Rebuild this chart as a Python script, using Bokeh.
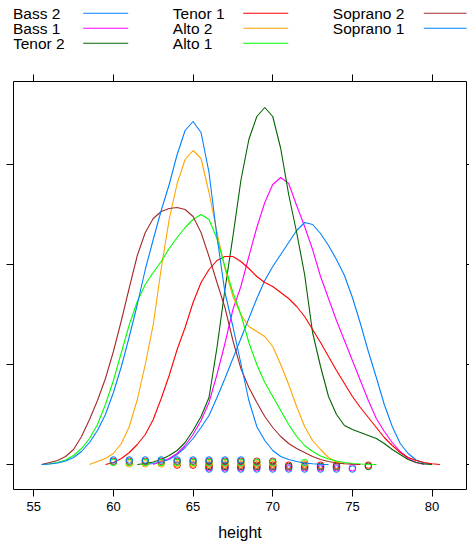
from bokeh.plotting import figure
from bokeh.models import Range1d, LinearAxis, FixedTicker
from bokeh.layouts import column
from bokeh.embed import file_html
from bokeh.resources import INLINE
from bokeh.core.properties import value

FONT = "Liberation Sans"

groups = ["Bass 2", "Bass 1", "Tenor 2", "Tenor 1", "Alto 2", "Alto 1", "Soprano 2", "Soprano 1"]
colors = ["#0080ff", "#ff00ff", "#006400", "#ff0000", "#ffa500", "#00ff00", "#a52a2a", "#0080ff"]

x_ticks = [55, 60, 65, 70, 75, 80]
y_ticks = [0.0, 0.05, 0.10, 0.15]

# density estimates (height in inches -> density)
bass2_x = [62, 62.5, 63, 63.5, 64, 64.5, 65, 65.5, 66, 66.5, 67, 67.5, 68, 68.5, 69, 69.5, 70, 70.5, 71, 71.5, 72, 72.5, 73, 73.5, 74, 74.5, 75, 75.5, 76, 76.5, 77, 77.5, 78, 78.5, 79, 79.5, 80]
bass2_d = [0, .0005, .00125, .0025, .005, .0085, .013, .0185, .0245, .0335, .043, .053, .063, .073, .083, .092, .099, .105, .111, .117, .121, .120, .1155, .1095, .1025, .0945, .0835, .0705, .0565, .0435, .030, .019, .0105, .0055, .00225, .00075, 0]

bass1_x = [62.5, 63, 63.5, 64, 64.5, 65, 65.5, 66, 66.5, 67, 67.5, 68, 68.5, 69, 69.5, 70, 70.5, 71, 71.5, 72, 72.5, 73, 73.5, 74, 74.5, 75, 75.5, 76, 76.5, 77, 77.5, 78, 78.5, 79, 79.5]
bass1_d = [0, .0015, .003, .0055, .0095, .015, .022, .031, .045, .0605, .0775, .089, .104, .1185, .131, .140, .1435, .1405, .1295, .119, .1075, .094, .083, .072, .062, .052, .042, .032, .023, .0165, .011, .0065, .003, .001, 0]

tenor2_x = [61.5, 62, 62.5, 63, 63.5, 64, 64.5, 65, 65.5, 66, 66.5, 67, 67.5, 68, 68.5, 69, 69.5, 70, 70.5, 71, 71.5, 72, 72.5, 73, 73.5, 74, 74.5, 75, 75.5, 76, 76.5, 77, 77.5, 78, 78.5, 79, 79.5, 80]
tenor2_d = [0, .0005, .00125, .0025, .0045, .007, .011, .017, .024, .0335, .0585, .0875, .114, .142, .1625, .174, .1785, .174, .158, .135, .116, .095, .066, .049, .034, .025, .0195, .0175, .016, .0145, .013, .0105, .0075, .005, .0025, .001, .00025, 0]

tenor1_x = [59.5, 60, 60.5, 61, 61.5, 62, 62.5, 63, 63.5, 64, 64.5, 65, 65.5, 66, 66.5, 67, 67.5, 68, 68.5, 69, 69.5, 70, 70.5, 71, 71.5, 72, 72.5, 73, 73.5, 74, 74.5, 75, 75.5, 76, 76.5, 77, 77.5, 78, 78.5, 79, 79.5, 80, 80.5]
tenor1_d = [0, .001, .003, .006, .010, .015, .0225, .033, .0445, .0575, .0685, .081, .091, .0975, .102, .104, .104, .1015, .098, .094, .091, .089, .086, .083, .079, .074, .0675, .061, .054, .047, .0405, .034, .0285, .0235, .0185, .0135, .0095, .006, .0035, .002, .001, .0004, 0]

alto2_x = [58.5, 59, 59.5, 60, 60.5, 61, 61.5, 62, 62.5, 63, 63.5, 64, 64.5, 65, 65.5, 66, 66.5, 67, 67.5, 68, 68.5, 69, 69.5, 70, 70.5, 71, 71.5, 72, 72.5, 73, 73.5, 74, 74.5]
alto2_d = [0, .0015, .003, .0055, .0105, .019, .0325, .050, .070, .098, .1225, .1405, .1525, .157, .153, .136, .116, .098, .084, .075, .069, .0665, .064, .059, .050, .040, .029, .019, .012, .0075, .0035, .00125, .00025]

alto1_x = [55.5, 56, 56.5, 57, 57.5, 58, 58.5, 59, 59.5, 60, 60.5, 61, 61.5, 62, 62.5, 63, 63.5, 64, 64.5, 65, 65.5, 66, 66.5, 67, 67.5, 68, 68.5, 69, 69.5, 70, 70.5, 71, 71.5, 72, 72.5, 73, 73.5, 74, 74.5, 75, 75.5, 76, 76.5]
alto1_d = [0, .00035, .001, .00225, .0045, .008, .013, .020, .030, .042, .056, .070, .0815, .090, .096, .1015, .108, .1135, .1185, .1225, .125, .1225, .113, .099, .086, .075, .061, .050, .041, .034, .027, .020, .014, .0095, .0065, .00425, .00275, .00175, .001, .0005, .00025, .0001, 0]

soprano2_x = [55.5, 56, 56.5, 57, 57.5, 58, 58.5, 59, 59.5, 60, 60.5, 61, 61.5, 62, 62.5, 63, 63.5, 64, 64.5, 65, 65.5, 66, 66.5, 67, 67.5, 68, 68.5, 69, 69.5, 70, 70.5, 71, 71.5, 72, 72.5, 73, 73.5, 74, 74.5, 75, 75.5]
soprano2_d = [0, .001, .002, .004, .0075, .014, .0225, .032, .043, .0565, .072, .0885, .1045, .116, .123, .1265, .128, .1285, .1275, .124, .116, .104, .091, .0785, .062, .048, .0385, .031, .024, .0185, .014, .0105, .008, .006, .004, .0025, .0015, .00075, .00035, .0001, 0]

soprano1_x = [55.5, 56, 56.5, 57, 57.5, 58, 58.5, 59, 59.5, 60, 60.5, 61, 61.5, 62, 62.5, 63, 63.5, 64, 64.5, 65, 65.5, 66, 66.5, 67, 67.5, 68, 68.5, 69, 69.5, 70, 70.5, 71, 71.5, 72, 72.5, 73, 73.5]
soprano1_d = [0, .00025, .00075, .00175, .0035, .0065, .011, .017, .025, .036, .049, .064, .080, .0975, .1125, .127, .140, .155, .167, .1715, .166, .146, .114, .086, .069, .0505, .032, .019, .012, .007, .004, .0025, .0015, .00075, .0004, .00015, 0]

# observed heights (rug points)
bass2_h = [66, 67, 68, 69, 70, 71, 72, 73, 74, 75]
bass1_h = [66, 67, 68, 69, 70, 71, 72, 73, 74, 75]
tenor2_h = [66, 67, 68, 69, 70, 71, 72, 73, 74, 76]
tenor1_h = [64, 65, 66, 67, 68, 69, 70, 71, 72, 73, 74, 76]
alto2_h = [61, 62, 63, 64, 65, 66, 67, 68, 69, 70, 72]
alto1_h = [60, 61, 62, 63, 64, 65, 66, 67, 68, 69, 70, 72]
soprano2_h = [60, 61, 62, 63, 64, 65, 66, 67, 68, 69, 70]
soprano1_h = [60, 61, 62, 63, 64, 65, 66, 67, 68]

curves_x = [bass2_x, bass1_x, tenor2_x, tenor1_x, alto2_x, alto1_x, soprano2_x, soprano1_x]
curves_d = [bass2_d, bass1_d, tenor2_d, tenor1_d, alto2_d, alto1_d, soprano2_d, soprano1_d]
rugs = [bass2_h, bass1_h, tenor2_h, tenor1_h, alto2_h, alto1_h, soprano2_h, soprano1_h]

BL, BR = 13, 3  # side borders shared by key and panel

# ---------- main panel ----------
p = figure(width=469, height=488, x_range=Range1d(53.73, 82.16), y_range=Range1d(-0.0125, 0.1915),
           output_backend="svg", toolbar_location=None, x_axis_location=None, y_axis_location=None,
           min_border_left=BL, min_border_right=BR, min_border_top=21, min_border_bottom=59)
p.grid.visible = False
p.outline_line_color = "black"
p.outline_line_width = 1
p.background_fill_color = "white"
p.border_fill_color = "white"


def make_axis(ticks, tick_out, labels):
    ax = LinearAxis(ticker=FixedTicker(ticks=ticks))
    ax.axis_line_color = None
    ax.major_tick_in = 0
    ax.major_tick_out = tick_out
    ax.major_tick_line_color = "black"
    ax.minor_tick_line_color = None
    if labels:
        ax.major_label_text_font = FONT
        ax.major_label_text_font_size = "13px"
        ax.major_label_text_color = "black"
        ax.major_label_standoff = 5
    else:
        ax.major_label_text_font_size = "0px"
        ax.major_label_standoff = 0
        ax.major_label_overrides = {t: "" for t in ticks}
    return ax


bottom = make_axis(x_ticks, 7, True)
bottom.axis_label = "height"
bottom.axis_label_text_font = FONT
bottom.axis_label_text_font_size = "16px"
bottom.axis_label_text_font_style = "normal"
bottom.axis_label_text_color = "black"
bottom.axis_label_standoff = 10
p.add_layout(bottom, "below")
p.add_layout(make_axis(x_ticks, 7, False), "above")
p.add_layout(make_axis(y_ticks, 7, False), "left")
p.add_layout(make_axis(y_ticks, 3, False), "right")

for i, (xs, ds, hs, c) in enumerate(zip(curves_x, curves_d, rugs, colors)):
    p.line(xs, ds, line_color=c, line_width=1.1)
    off = (i - 3.5) * 0.00065
    p.scatter(hs, [off] * len(hs), marker="circle", size=6.5, fill_color=None, line_color=c, line_width=1)

# ---------- key (pixel coordinates) ----------
lf = figure(width=469, height=60, x_range=Range1d(BL, 469 - BR), y_range=Range1d(60, 0),
            output_backend="svg", toolbar_location=None, x_axis_location=None, y_axis_location=None,
            min_border_left=BL, min_border_right=BR, min_border_top=0, min_border_bottom=0)
lf.grid.visible = False
lf.outline_line_color = None

col_text_x = [12.5, 172.3, 332.3]
col_line_x = [82.7, 242.7, 423.3]
line_len = 45
row0, row_step = 12.7, 15

tx, ty, tt, sx0, sx1, sy, sc = [], [], [], [], [], [], []
for k, (g, c) in enumerate(zip(groups, colors)):
    ci, ri = k // 3, k % 3
    y = row0 + ri * row_step
    tx.append(col_text_x[ci]); ty.append(y); tt.append(g)
    sx0.append(col_line_x[ci]); sx1.append(col_line_x[ci] + line_len); sy.append(y); sc.append(c)

lf.text(x=tx, y=ty, text=tt, text_font=value(FONT), text_font_size="15.5px",
        text_baseline="middle", text_align="left", text_color="black")
lf.segment(x0=sx0, y0=sy, x1=sx1, y1=sy, line_color=sc, line_width=1.1)

layout = column(lf, p, spacing=0)
open("out.html", "w").write(file_html(layout, INLINE))
